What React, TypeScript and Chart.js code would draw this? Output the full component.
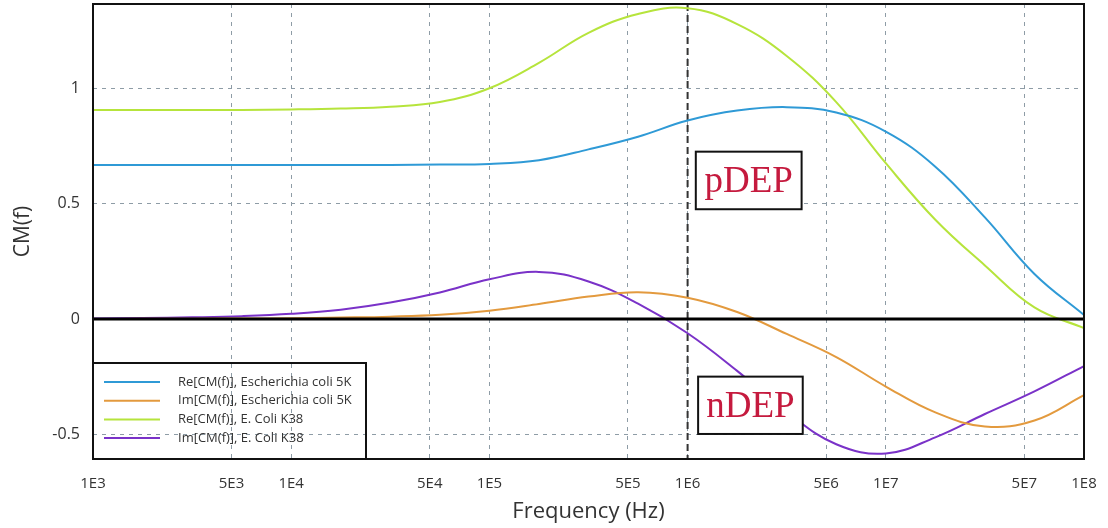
import React, { useEffect, useRef } from "react";
import { Chart, registerables } from "chart.js";

Chart.register(...registerables);

// Frequencies (Hz), quarter-decade steps from 1E3 to 1E8, at which the curves were read
const frequencies = [1e3, 1.778e3, 3.162e3, 5.623e3, 1e4, 1.778e4, 3.162e4, 5.623e4, 1e5, 1.778e5, 3.162e5, 5.623e5, 1e6, 1.778e6, 3.162e6, 5.623e6, 1e7, 1.778e7, 3.162e7, 5.623e7, 1e8];

const reCM5K = [0.667, 0.667, 0.667, 0.667, 0.667, 0.667, 0.667, 0.669, 0.672, 0.688, 0.735, 0.79, 0.86, 0.903, 0.918, 0.895, 0.812, 0.66, 0.44, 0.195, 0.017];
const imCM5K = [0.0, 0.0005, 0.001, 0.002, 0.003, 0.006, 0.01, 0.018, 0.036, 0.065, 0.097, 0.116, 0.092, 0.03, -0.065, -0.165, -0.293, -0.405, -0.466, -0.44, -0.33];
const reCMK38 = [0.906, 0.906, 0.906, 0.906, 0.908, 0.912, 0.92, 0.94, 1.0, 1.11, 1.24, 1.322, 1.347, 1.278, 1.14, 0.94, 0.675, 0.43, 0.232, 0.05, -0.04];
const imCMK38 = [0.002, 0.004, 0.007, 0.012, 0.022, 0.04, 0.071, 0.115, 0.172, 0.204, 0.162, 0.066, -0.062, -0.225, -0.403, -0.543, -0.583, -0.513, -0.412, -0.314, -0.204];

const seriesLabels = [
  "Re[CM(f)], Escherichia coli 5K",
  "Im[CM(f)], Escherichia coli 5K",
  "Re[CM(f)], E. Coli K38",
  "Im[CM(f)], E. Coli K38",
];
const seriesColors = ["#2f9ad6", "#e39a3e", "#b6e43c", "#7a32c8"];
const seriesValues = [reCM5K, imCM5K, reCMK38, imCMK38];

const xTickValues = [1e3, 5e3, 1e4, 5e4, 1e5, 5e5, 1e6, 5e6, 1e7, 5e7, 1e8];
const xTickLabels = ["1E3", "5E3", "1E4", "5E4", "1E5", "5E5", "1E6", "5E6", "1E7", "5E7", "1E8"];
const yTickValues = [-0.5, 0, 0.5, 1];
const yTickLabels = ["-0.5", "0", "0.5", "1"];

const dividerFrequency = 1e6;
const regionBoxes = [
  { text: "pDEP", x0: 1.1e6, x1: 3.76e6, y0: 0.725, y1: 0.4755 },
  { text: "nDEP", x0: 1.13e6, x1: 3.81e6, y0: -0.25, y1: -0.4985 },
];

const FONT = "'Open Sans', 'DejaVu Sans', sans-serif";
const TEXT = "#333";

const overlayPlugin = {
  id: "overlay",
  beforeDatasetsDraw(chart: any) {
    const { ctx, chartArea, scales } = chart;
    const x = scales.x.getPixelForValue(dividerFrequency);
    ctx.save();
    ctx.strokeStyle = "#333";
    ctx.lineWidth = 2;
    ctx.setLineDash([7, 4]);
    ctx.beginPath();
    ctx.moveTo(x, chartArea.top);
    ctx.lineTo(x, chartArea.bottom);
    ctx.stroke();
    ctx.restore();
  },
  afterDatasetsDraw(chart: any) {
    const { ctx, chartArea, scales } = chart;
    ctx.save();
    // zero line
    const y0 = scales.y.getPixelForValue(0);
    ctx.strokeStyle = "#000";
    ctx.lineWidth = 3;
    ctx.beginPath();
    ctx.moveTo(chartArea.left, y0);
    ctx.lineTo(chartArea.right, y0);
    ctx.stroke();

    // region boxes
    regionBoxes.forEach((b) => {
      const l = scales.x.getPixelForValue(b.x0);
      const r = scales.x.getPixelForValue(b.x1);
      const t = scales.y.getPixelForValue(b.y0);
      const bt = scales.y.getPixelForValue(b.y1);
      ctx.fillStyle = "#fff";
      ctx.fillRect(l, t, r - l, bt - t);
      ctx.strokeStyle = "#111";
      ctx.lineWidth = 2;
      ctx.strokeRect(l, t, r - l, bt - t);
      ctx.fillStyle = "#c51a3e";
      ctx.font = "37px 'Liberation Serif', 'DejaVu Serif', serif";
      ctx.textAlign = "center";
      ctx.textBaseline = "middle";
      ctx.fillText(b.text, (l + r) / 2, (t + bt) / 2 + 2);
    });

    // legend
    const lw = 273;
    const lh = 96;
    const lx = chartArea.left;
    const ly = chartArea.bottom - lh;
    ctx.strokeStyle = "#111";
    ctx.lineWidth = 2;
    ctx.strokeRect(lx, ly, lw, lh);
    chart.data.datasets.forEach((ds: any, i: number) => {
      const yy = ly + 19 + i * 18.7;
      ctx.strokeStyle = ds.borderColor;
      ctx.lineWidth = 2;
      ctx.beginPath();
      ctx.moveTo(lx + 11, yy);
      ctx.lineTo(lx + 67, yy);
      ctx.stroke();
      ctx.fillStyle = TEXT;
      ctx.font = `13px ${FONT}`;
      ctx.textAlign = "left";
      ctx.textBaseline = "middle";
      ctx.fillText(ds.label, lx + 85, yy);
    });

    // frame
    ctx.strokeStyle = "#111";
    ctx.lineWidth = 2;
    ctx.strokeRect(chartArea.left, chartArea.top, chartArea.right - chartArea.left, chartArea.bottom - chartArea.top);
    ctx.restore();
  },
};

export default function App() {
  const ref = useRef<HTMLCanvasElement>(null);
  useEffect(() => {
    const canvas = ref.current!;
    const xMap = new Map(xTickValues.map((v, i) => [v, xTickLabels[i]]));
    const yMap = new Map(yTickValues.map((v, i) => [v, yTickLabels[i]]));
    const chart = new Chart(canvas, {
      type: "line",
      data: {
        datasets: seriesLabels.map((label, s) => ({
          label,
          data: frequencies.map((f, i) => ({ x: f, y: seriesValues[s][i] })),
          borderColor: seriesColors[s],
          backgroundColor: seriesColors[s],
          borderWidth: 2,
          pointRadius: 0,
          tension: 0.4,
          fill: false,
        })),
      },
      options: {
        animation: false,
        responsive: false,
        maintainAspectRatio: false,
        layout: { padding: { top: 4, right: 24, left: 0, bottom: 0 } },
        plugins: { legend: { display: false }, tooltip: { enabled: false } },
        scales: {
          x: {
            type: "logarithmic",
            min: 1e3,
            max: 1e8,
            afterBuildTicks: (scale: any) => {
              scale.ticks = xTickValues.map((v) => ({ value: v }));
            },
            afterFit: (scale: any) => {
              scale.height = 69;
              scale.paddingLeft = 0;
              scale.paddingRight = 0;
              scale.paddingTop = 0;
              scale.paddingBottom = 0;
            },
            ticks: {
              autoSkip: false,
              maxRotation: 0,
              padding: 16,
              color: TEXT,
              font: { family: FONT, size: 15 },
              callback: (v: any) => xMap.get(Number(v)) ?? "",
            },
            grid: { color: "#8e9ca6", lineWidth: 1, drawTicks: false },
            border: { display: false, dash: [4, 5] },
            title: {
              display: true,
              text: "Frequency (Hz)",
              color: TEXT,
              font: { family: FONT, size: 22 },
              padding: { top: 0, bottom: 3 },
            },
          },
          y: {
            type: "linear",
            min: -0.607,
            max: 1.365,
            afterBuildTicks: (scale: any) => {
              scale.ticks = yTickValues.map((v) => ({ value: v }));
            },
            afterFit: (scale: any) => {
              scale.width = 93;
              scale.paddingLeft = 0;
              scale.paddingRight = 0;
              scale.paddingTop = 0;
              scale.paddingBottom = 0;
            },
            ticks: {
              padding: 13,
              color: TEXT,
              font: { family: FONT, size: 16 },
              callback: (v: any) => yMap.get(Number(v)) ?? "",
            },
            grid: { color: "#8e9ca6", lineWidth: 1, drawTicks: false },
            border: { display: false, dash: [4, 5] },
            title: {
              display: true,
              text: "CM(f)",
              color: TEXT,
              font: { family: FONT, size: 21 },
              padding: { top: 10, bottom: 0 },
            },
          },
        },
      },
      plugins: [overlayPlugin],
    } as any);
    return () => chart.destroy();
  }, []);
  return (
    <div style={{ position: "absolute", left: 0, top: 0, width: 1108, height: 528, background: "#fff" }}>
      <canvas ref={ref} width={1108} height={528} style={{ display: "block" }} />
    </div>
  );
}
